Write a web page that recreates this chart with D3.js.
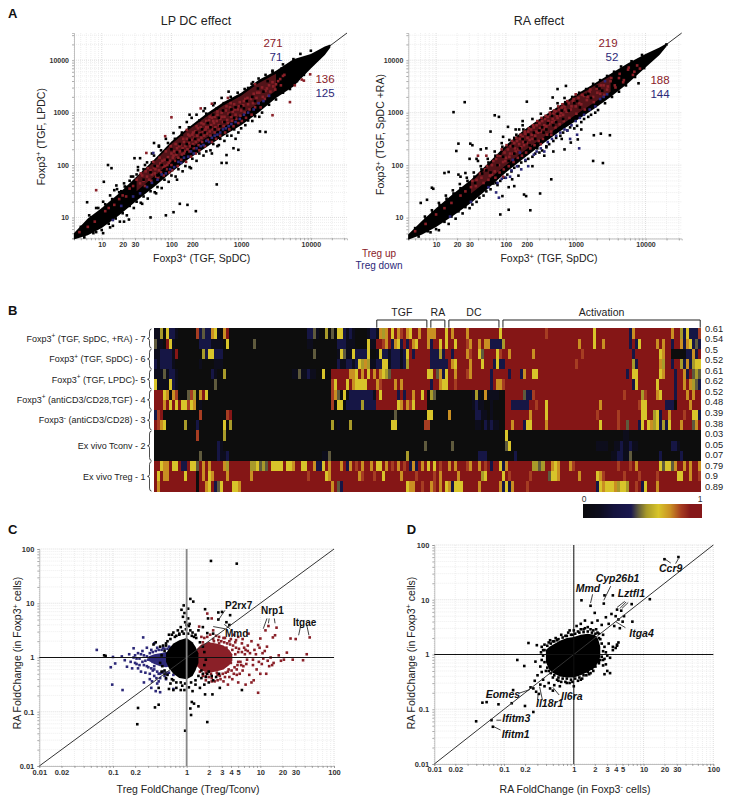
<!DOCTYPE html>
<html><head><meta charset="utf-8">
<script src="https://cdn.jsdelivr.net/npm/d3@7/dist/d3.min.js"></script>
<style>html,body{margin:0;background:#fff}svg{display:block}text{font-family:"Liberation Sans",Arial,sans-serif}</style>
</head><body><svg id="c" width="729" height="803"><defs><filter id="soft" x="-1%" y="-1%" width="102%" height="102%"><feGaussianBlur stdDeviation="0.7 0.3"/></filter></defs></svg>
<script>
// All scatter values are log10(value) x 100.
const RED="#8a2028",BLUE="#2c2878",INK="#222";
const aTicksX=[10,20,30,100,200,1000,10000], aTicksY=[10,100,1000,10000];
const fcTicksX=[0.01,0.02,0.1,0.2,1,2,3,4,5,10,20,30,100], fcTicksY=[0.01,0.1,1,10,100];

// A left: dense band envelope (logx, low, high)
const aLBandX=[60,80,100,125,150,175,200,225,250,275,300,325,350,375,400,420,428];
const aLBandLow=[58,66,80,104,132,158,186,212,234,256,276,300,328,350,384,410,424];
const aLBandHigh=[70,98,118,146,178,210,245,272,298,320,338,362,380,402,412,426,430];
const aLMixX=[150,175,200,225,250,275,300,325,350];
const aLMixLow=[150,178,206,230,252,272,296,318,342];
const aLMixHigh=[176,206,240,268,292,314,332,356,374];
const aLSpeck=[[160,172],[170,186],[180,180],[186,200],[194,210],[202,206],[208,224],[216,228],[222,240],[230,236],[236,262],[242,258],[248,262],[256,272],[262,268],[268,290],[276,282],[284,296],[292,310],[300,312],[308,322],[316,330],[324,346],[332,340],[176,198],[190,192],[212,240],[226,248],[244,268],[260,296],[274,304],[290,290],[304,308],[320,322],[338,360],[200,230],[234,250],[252,280],[270,274],[286,306]];
const aLBlack=[[109,200],[114,194],[103,168],[79,129],[112,81],[139,96],[132,92],[170,100],[192,104],[203,110],[212,126],[223,124],[235,112],[265,163],[345,380],[358,384],[327,264],[335,263],[317,358],[310,347],[289,232],[296,229],[279,219],[272,204],[279,204],[226,296],[175,242],[182,237],[203,261],[215,258],[155,213],[147,213],[145,178],[133,159],[121,161],[260,314],[246,303],[229,290],
[70,82],[85,100],[95,118],[105,125],[115,135],[125,148],[135,158],[140,170],[150,182],[160,192],[165,205],[175,218],[185,228],[195,242],[205,250],[215,262],[225,272],[240,285],[250,298],[265,308],[275,318],[285,330],[295,338],[305,345],[315,355],[325,365],[335,372],[345,378],[360,392],[375,402],[385,412],[400,418],
[75,62],[88,70],[100,76],[110,88],[120,98],[130,108],[140,122],[150,130],[160,140],[170,150],[180,158],[190,172],[200,180],[210,192],[220,198],[230,212],[240,222],[250,226],[260,240],[270,250],[280,256],[290,268],[300,270],[310,285],[320,293],[330,300],[340,315],[350,325],[360,338],[370,345],[380,360],[390,372],
[98,105],[118,152],[128,150],[152,196],[172,205],[158,126],[178,146],[208,172],[228,194],[258,222],[268,238],[292,250]];
const aLBlackEdge=[[82,104],[92,118],[102,130],[112,142],[122,154],[132,165],[142,178],[152,190],[162,200],[172,222],[182,235],[192,250],[212,272],[222,282],[236,296],[248,308],[262,318],[272,328],[282,340],[92,72],[102,70],[116,84],[126,92],[136,104],[146,118],[156,128],[166,136],[176,148],[186,156],[196,168],[206,178],[216,188],[226,196],[236,208],[246,218],[256,228],[266,236],[276,246],[286,256],[296,262],[306,276],[316,284],[326,292]];
const aLRed=[[92,152],[200,291],[242,308],[258,317],[281,328],[370,320],[345,295],[399,373],[390,361],[387,363],[377,352],[320,354],[164,223],[191,255],[222,267],
[68,72],[80,82],[90,92],[105,112],[110,118],[118,124],[125,135],[130,142],[135,140],[140,155],[145,160],
[150,172],[155,165],[158,180],[160,170],[163,188],[165,178],[168,172],[170,190],[172,182],[175,195],[176,184],[178,178],[180,198],[182,190],[184,203],[185,186],[188,196],[190,210],[191,198],[193,192],[195,215],[196,204],[198,208],[200,222],[200,200],[202,214],[204,226],[205,208],[207,220],[208,232],[210,214],[212,226],[213,238],[215,220],[216,232],[218,244],[219,226],[220,236],[222,250],[223,230],[225,242],[226,256],[227,236],[229,248],[230,258],[231,240],[233,252],[234,264],[235,244],[237,256],[238,270],[239,248],[241,260],[242,272],[243,252],[245,264],[246,278],[247,256],[249,268],[250,284],[251,260],[253,272],[254,286],[255,264],[257,276],[258,290],[259,268],[261,280],[262,292],[263,272],[265,284],[266,296],[268,276],[270,288],[272,300],[274,282],[276,292],[278,304],[280,286],[282,298],[284,310],[286,292],[288,302],[290,316],[292,296],[295,306],[298,320],[300,304],[303,314],[306,326],[310,316],[314,326],[318,336],[322,328],[326,338],[330,348],[335,342],[340,352],[345,358],[350,354],[356,364],[362,372]];
const aLRed2=[[156,184],[162,160],[166,194],[171,170],[174,206],[177,192],[181,176],[183,214],[187,208],[189,180],[192,226],[194,200],[197,186],[199,236],[201,190],[203,218],[206,240],[209,198],[211,236],[214,210],[217,250],[218,222],[221,206],[224,258],[226,226],[228,216],[231,262],[232,232],[235,222],[236,274],[239,238],[240,228],[243,280],[244,244],[247,266],[248,236],[250,272],[252,248],[255,292],[256,256],[258,244],[260,284],[262,262],[264,250],[266,302],[268,268],[270,256],[272,292],[275,274],[277,262],[279,312],[281,280],[283,268],[285,318],[287,284],[289,274],[291,306],[293,288],[296,280],[297,312],[299,294],[301,284],[304,322],[305,300],[307,290],[309,328],[312,306],[315,296],[317,318],[320,310],[323,338],[325,318],[328,310],[331,330],[334,326],[337,346],[339,332],[342,340],[346,350],[349,344],[353,360],[357,352],[360,370]];
const aLBlue=[[116,95],[174,223],[145,140],[155,146],[165,158],[172,166],[180,172],[186,182],[192,184],[198,192],[204,196],[210,206],[214,204],[218,214],[224,216],[228,226],[232,222],[236,232],[242,236],[246,238],[250,246],[254,244],[258,252],[262,256],[266,258],[270,262],[274,268],[278,270],[282,274],[286,278],[292,282],[298,288],[304,296],[310,300],[318,306],[325,318],[332,322],[340,332],[128,122]];

// A right
const aRBandX=[60,80,100,125,150,175,200,225,250,275,300,325,350,375,400,420,430];
const aRBandLow=[58,68,82,104,128,156,186,212,238,262,284,306,330,356,386,410,426];
const aRBandHigh=[68,94,118,146,172,204,238,266,290,312,334,354,374,394,412,424,432];
const aRMixX=[150,175,200,225,250,275,300,325,350];
const aRMixLow=[146,172,200,226,250,272,296,318,340];
const aRMixHigh=[168,198,232,262,286,308,330,350,370];
const aRSpeck=[[156,166],[166,184],[178,186],[188,200],[196,216],[204,208],[212,222],[220,232],[228,244],[234,238],[240,262],[248,266],[254,262],[260,280],[268,276],[274,298],[282,288],[290,304],[298,318],[306,310],[314,334],[322,328],[330,350],[338,342],[172,190],[192,222],[210,236],[224,250],[242,250],[258,268],[272,282],[286,316],[302,322],[318,336],[334,346],[200,196],[232,258],[252,272],[266,294],[280,304]];
const aRBlack=[[125,301],[141,320],[132,241],[129,227],[149,241],[152,238],[164,230],[184,295],[190,292],[178,264],[203,273],[230,321],[224,284],[219,268],[265,173],[249,146],[235,114],[192,106],[204,115],[229,141],[325,208],[339,204],[349,257],[336,260],[326,257],[390,356],[286,351],[274,345],[267,329],[94,157],[78,128],[87,134],[112,185],[118,187],[132,182],[142,185],[195,141],[209,173],[212,160],[226,144],[293,243],[303,249],[308,268],[284,230],[430,430],[96,155],[148,212],[160,208],[172,232],[196,254],[212,252],[245,232],[255,218],[268,226],
[70,80],[85,98],[95,110],[105,124],[115,136],[125,146],[135,156],[145,170],[155,178],[165,192],[175,205],[185,218],[195,235],[205,248],[215,258],[225,268],[235,272],[245,282],[255,290],[265,300],[275,310],[285,320],[295,330],[305,338],[315,345],[325,355],[335,362],[345,370],[355,378],[365,388],[380,398],[395,410],
[75,64],[88,74],[100,78],[112,92],[122,102],[132,112],[142,120],[152,125],[162,138],[172,150],[182,165],[192,170],[202,182],[212,195],[222,205],[232,212],[242,222],[252,228],[262,240],[272,252],[282,262],[292,272],[302,275],[312,288],[322,296],[332,305],[342,318],[352,330],[362,340],[372,352],[385,368],[398,385],
[120,122],[135,178],[158,212],[186,166],[204,158],[218,180],[238,198],[258,236],[280,250]];
const aRBlackEdge=[[84,102],[94,114],[104,128],[114,142],[124,152],[134,164],[144,176],[154,186],[164,198],[174,212],[184,226],[194,242],[214,268],[224,276],[238,288],[250,298],[264,308],[274,318],[284,328],[92,72],[104,76],[118,88],[128,98],[138,108],[148,118],[158,130],[168,142],[178,154],[188,162],[198,176],[208,188],[218,198],[228,208],[238,216],[248,224],[258,234],[268,246],[278,256],[288,266],[298,270],[308,282],[318,292],[328,300]];
const aRRed=[[70,74],[85,88],[100,106],[112,118],[122,128],[135,142],[142,150],[150,158],[158,172],[165,176],[170,192],[175,172],[180,200],[184,188],[186,212],[190,200],[192,218],[196,206],[198,224],[200,214],[203,230],[205,216],[207,236],[210,222],[212,242],[214,226],[216,246],[218,230],[220,250],[222,234],[224,254],[226,238],[228,260],[230,242],[232,264],[234,248],[236,268],[238,250],[240,272],[242,256],[244,276],[246,262],[248,280],[250,264],[252,284],[254,270],[256,288],[258,274],[260,292],[262,278],[264,296],[266,282],[268,298],[270,284],[272,302],[274,290],[276,306],[278,294],[280,310],[282,296],[284,312],[287,302],[290,318],[293,306],[296,322],[300,312],[304,328],[308,316],[312,332],[316,324],[320,340],[325,330],[330,346],[335,336],[340,352],[345,344],[350,360],[356,352],[362,366],[368,358],[375,382],[382,372],[388,390],[392,384],[160,218],[172,218],[180,182],[196,178],[250,240],[265,258],[300,335]];
const aRRed2=[[152,170],[157,160],[163,184],[168,166],[173,198],[177,180],[182,208],[185,176],[188,218],[191,186],[194,230],[197,192],[199,208],[201,238],[204,198],[206,222],[209,246],[211,206],[213,232],[215,252],[217,214],[219,240],[221,258],[223,218],[225,244],[227,264],[229,224],[231,252],[233,270],[235,232],[237,258],[239,276],[241,238],[243,264],[245,284],[247,246],[249,270],[251,290],[253,250],[255,276],[257,294],[259,258],[261,284],[263,300],[265,264],[267,288],[269,304],[271,272],[273,294],[275,312],[277,278],[279,300],[281,316],[283,284],[285,306],[288,322],[291,290],[294,312],[297,326],[301,298],[305,318],[309,334],[313,306],[317,330],[321,344],[326,320],[331,338],[336,352],[341,334],[346,350],[351,366],[357,348],[363,374],[369,362],[376,386],[384,378]];
const aRBlue=[[120,102],[150,130],[175,158],[188,166],[194,174],[200,176],[206,178],[208,190],[186,148],[190,138],[216,198],[222,192],[228,210],[232,198],[240,220],[244,226],[250,232],[255,226],[260,244],[266,250],[272,256],[278,262],[284,268],[288,266],[294,276],[300,284],[306,290],[312,296],[320,306],[328,312],[335,326],[340,330],[342,360],[302,258],[305,232],[292,250],[345,335],[210,210],[220,224]];

// C
const cBlackX=[-28,-24,-18,-10,0,8,12,16];
const cBlackLow=[-8,-20,-30,-38,-40,-34,-24,-10];
const cBlackHigh=[8,16,26,32,36,28,20,8];
const cRedX=[14,20,30,40,50,58,62];
const cRedLow=[-16,-24,-28,-26,-22,-14,-6];
const cRedHigh=[16,24,28,26,22,14,6];
const cBlueX=[-52,-44,-36,-28,-22];
const cBlueLow=[-6,-12,-16,-18,-16];
const cBlueHigh=[2,6,8,10,10];
const cBlack=[[33,178],[68,173],[5,108],[9,103],[-7,88],[-4,96],[2,90],[-67,-123],[-66,-93],[-43,-92],[-38,-87],[-2,-135],[6,-106],[28,-119],[7,-82],[10,-85],[16,-90],[5,-94],[25,-68],[35,-68],[45,-56],[75,-60],[43,83],[48,84],[59,78],[25,89],[29,72],[43,70],[54,65],[58,60],[-110,3],[-112,4],[-5,75],[2,72],[-2,65],[0,60],[3,58],[-1,52],[5,50],[-14,40],[-20,42],[-28,26],[-32,22],[-42,28],[-45,24],[-36,20],[-6,48],[-10,44],[8,46],[12,42],[16,50],[22,56],[28,45],[36,44],[-30,-30],[-28,-38],[-22,-48],[-18,-42],[-14,-56],[-6,-52],[-3,-60],[3,-55],[8,-62],[12,-50],[18,-56],[24,-50],[30,-46],[36,-42],[-8,-60],[-38,-56],[-18,-60],[-24,-58],[20,-38],[26,-36]];
const cBlackEdge=[[-30,12],[-34,4],[-36,-10],[-33,-16],[-28,22],[-26,30],[-22,34],[-16,38],[-10,42],[-4,44],[2,44],[7,40],[13,36],[18,28],[22,20],[24,10],[26,-4],[24,-14],[20,-24],[22,-30],[16,-34],[12,-42],[6,-46],[-2,-48],[-8,-46],[-14,-46],[-20,-40],[-26,-32],[-30,-24],[-34,-26],[30,-26],[34,-34],[28,-30],[40,-36],[44,-30],[-24,42],[-18,46],[-12,50],[-8,56],[10,38],[4,62],[-3,82]];
const cBlue=[[-122,14],[-59,37],[-72,17],[-88,2],[-100,1],[-103,-18],[-97,-11],[-101,-50],[-87,-60],[-81,-17],[-76,-8],[-84,-5],[-78,6],[-70,4],[-68,-12],[-66,-20],[-64,-2],[-60,12],[-58,-14],[-56,-28],[-54,2],[-52,-18],[-50,-30],[-48,14],[-46,-24],[-44,-34],[-42,-8],[-40,18],[-38,-30],[-36,-38],[-34,-28],[-32,18],[-30,-34],[-28,-40],[-26,-30],[-24,20],[-48,-56],[-40,-48],[-42,-62],[-38,-44],[-58,-46],[-50,-40],[-36,-64],[-18,-58],[-18,-32],[-62,-26],[-74,-20],[-54,18],[-44,26],[-52,-4],[-46,-8],[-44,-16]];
const cBlue2=[[-56,-6],[-54,-16],[-50,8],[-48,-20],[-46,10],[-44,-22],[-42,12],[-40,-26],[-38,14],[-36,-30],[-34,14],[-32,-26],[-30,16],[-28,-28],[-26,16],[-24,-28],[-22,18],[-58,4],[-60,-8],[-62,6],[-64,-14],[-66,8],[-68,-2],[-70,-10],[-72,0],[-47,-44],[-41,-38]];
const cRed=[[167,37],[141,35],[148,34],[163,6],[158,-5],[144,-4],[132,-4],[136,9],[122,55],[111,58],[107,50],[120,41],[117,37],[109,20],[97,23],[100,35],[84,44],[67,32],[97,-65],[91,-42],[28,81],[34,72],[17,57],[36,50],[114,0],[104,-2],[98,-8],[92,14],[86,8],[82,-4],[78,18],[74,-14],[70,10],[68,-22],[66,28],[64,-30],[62,14],[60,-10],[58,30],[56,-26],[54,18],[52,-36],[50,36],[48,-8],[46,-40],[44,26],[42,-32],[40,40],[38,-44],[36,34],[34,-38],[32,42],[30,-36],[28,38],[26,-34],[24,36],[22,-34],[20,38],[72,-30],[76,-24],[80,14],[85,-32],[90,-14],[95,-22],[102,-12],[106,12],[110,-6],[118,-10],[125,4],[128,-6],[108,-30],[100,-30],[88,-46],[80,-50],[70,-46],[62,-40],[56,-50],[116,-14],[88,30],[76,34],[70,38],[64,42]];
const cRed2=[[18,-26],[22,28],[26,-28],[30,26],[33,-30],[37,30],[41,-28],[43,32],[45,-34],[47,30],[49,-30],[51,28],[53,-28],[55,26],[57,-22],[59,24],[61,-24],[63,22],[65,-18],[67,18],[69,-14],[71,16],[73,-8],[75,10],[77,-16],[79,6],[81,-12],[83,12],[44,38],[52,36],[60,34],[68,-32],[58,-36],[50,-44],[42,-42],[34,-44],[26,-42],[75,26],[83,22],[90,-4],[94,6],[99,18],[103,8],[112,-16],[70,-8],[66,6]];

// D
const dCloudX=[-40,-35,-30,-20,-10,0,10,20,30,35,38];
const dCloudLow=[-14,-28,-34,-40,-42,-42,-38,-32,-24,-14,-4];
const dCloudHigh=[8,14,18,25,30,32,36,38,36,28,14];
const dBlack=[[150,178],[130,174],[109,101],[44,108],[56,108],[11,99],[24,89],[43,93],[83,92],[62,82],[68,80],[-140,-122],[-131,-88],[-125,-87],[-108,-91],[-118,-120],[-116,-132],[-89,-89],[-87,-65],[-70,-94],[-58,-105],[-81,-10],[-71,-21],[-65,21],[-53,17],[-55,-13],[-48,-22],[-46,-32],[-52,-38],[-44,-46],[-56,-48],[-48,-55],[-58,-62],[-62,-60],[-54,-68],[-50,-72],[-42,-58],[-36,-52],[-34,-62],[-28,-56],[-30,-66],[-22,-48],[-20,-58],[-10,-52],[-2,-50],[0,-58],[10,-46],[24,-34],[36,-12],[42,-10],[46,-18],[-46,14],[-44,8],[-36,22],[-30,24],[-24,26],[-12,34],[-2,36],[6,42],[14,46],[20,50],[28,44],[32,46],[36,38],[42,36],[48,-2],[52,-6],[60,12],[56,8],[62,16],[26,58],[34,62],[40,54],[46,68],[50,56],[54,74],[58,52],[64,64],[66,48],[70,60],[84,60],[60,70],[72,70],[30,76],[16,62],[10,56],[4,52],[-6,44],[50,20],[56,14],[62,18],[64,22]];
const dBlackEdge=[[-44,-2],[-42,-14],[-42,8],[-38,16],[-38,-24],[-33,20],[-33,-34],[-28,24],[-28,-38],[-22,28],[-22,-42],[-16,31],[-16,-44],[-10,34],[-10,-44],[-4,36],[-4,-46],[2,38],[2,-44],[8,40],[8,-42],[14,41],[14,-38],[20,42],[20,-32],[26,40],[26,-26],[31,38],[31,-22],[36,30],[36,-16],[40,20],[40,-4],[42,6],[38,-10],[-46,-10],[-47,4],[-40,-30],[-36,-30],[-30,-42],[-24,-46],[-18,-50],[-12,-50],[-6,-52],[6,-48],[12,-44],[18,-38],[22,-36],[28,-30],[-42,18],[-34,26],[-26,30],[-18,36],[-8,40],[0,44],[10,46],[16,48],[24,46],[34,40],[38,28],[44,14],[46,4],[44,-8],[42,-20],[48,-30],[52,-34],[44,-36]];

// Heat map: one digit per gene column, digit indexes heatValues. A short segment repeats its last digit.
const heatValues=[0,.13,.3,.36,.46,.53,.63,.73,.82,.95];
const heatWidths=[46,46,46,44];
const heatRows=[
["11506221000000"+"82422761079"+"0","00000"+"22410"+"05040"+"66212"+"10000"+"12217"+"57969"+"78976"+"99799"+"7","77999"+"69799"+"99799"+"99999999"+"69"+"9999999999999"+"8"+"9","9999999969"+"9999999999"+"27"+"999999999999"+"7995262228"],
["41109610000000"+"02222111106"+"00000000"+"40","00000"+"11000"+"00000"+"22211"+"10000"+"61199"+"87927"+"62929"+"769997","2996969969998799797722225"+"9","99979"+"999"+"6"+"99"+"7"+"99999999"+"29269"+"9999"+"797992997"+"276242"],
["1122221"+"9"+"00000000"+"52"+"66"+"2220","00000"+"00400"+"00000"+"16411"+"62222"+"60016"+"22122"+"21269"+"299999","22252"+"99299"+"99789"+"96499"+"99689"+"97999"+"99997"+"9","99998"+"9999999999999999"+"2"+"99999999"+"67"+"99"+"00000"+"22729"],
["2122221"+"00000000"+"1"+"0000"+"1110","000000000000000"+"21122"+"12657"+"51122"+"66122"+"21259"+"9","22222"+"29769"+"99979"+"99699"+"92622"+"9","99899"+"9999999999999999"+"52"+"9999999"+"75"+"99"+"2"+"99"+"52"+"7"+"2"+"5"+"66"],
["11141221"+"00000000000"+"2100"+"50","11411"+"21100"+"60099"+"99997"+"76979"+"69797"+"65499"+"9999999999"+"6","69472"+"69979"+"99879"+"99999"+"29999"+"92999"+"27996"+"6"+"9","9999999999999999999"+"2"+"9"+"66"+"9999999"+"67"+"999"+"2"+"99"+"7"+"2"+"9"+"454"],
["61111621"+"000000000000"+"40","0000000000"+"00086"+"99969"+"76666"+"99978"+"99997"+"97999"+"9","29976"+"69989"+"9999999999"+"29778"+"9","99999999999999999999"+"9"+"2"+"6"+"999999"+"6"+"99999"+"2"+"99"+"7"+"9"+"7"+"542"],
["99967078"+"000"+"485"+"0"+"796"+"0","0000000000"+"00087"+"40602"+"22222"+"22196"+"99999"+"29299"+"799690","54000"+"00000"+"00001"+"51071"+"11100"+"99999"+"94228"+"9","999999999999999999"+"8"+"9999"+"9"+"5"+"8"+"999"+"76"+"9999"+"2"+"999"+"7"+"9"+"7"+"99"],
["99979696966867"+"010","0000000000"+"00080"+"66022"+"22252"+"22299"+"99999"+"67978"+"699990","0000000000"+"00001"+"21100"+"10000"+"99"+"222222"+"99"+"8"+"99"+"6"+"9","9999999999"+"7"+"999999999999"+"8"+"66"+"999999"+"222"+"0"+"9999"+"7"+"999"],
["289"+"000000000000"+"8"+"00000000"+"89"+"0","0000000000"+"0000000000"+"0000000000"+"00004"+"0000000000"+"6","60000"+"07000"+"00000"+"22110"+"10000"+"99999"+"99979"+"999"+"6"+"9","999999999"+"8"+"999999"+"8"+"9999999"+"66"+"99"+"56"+"2"+"99"+"7"+"9999"+"8"+"99"+"662"],
["9876"+"000000"+"5"+"000"+"2"+"00000000"+"6050","0000000000"+"00050"+"10005"+"0000000000"+"00066"+"0000000008"+"8","0000000000"+"00000"+"11021"+"21100"+"99799"+"92669"+"999"+"7"+"9","9999999999"+"6"+"99999"+"8"+"99"+"4"+"999"+"2"+"6"+"9"+"6"+"7"+"5"+"6"+"2"+"5"+"2"+"6"+"999"+"7"+"999"+"4"+"7"+"9"],
["00000000000000"+"8"+"00000000"+"50","0","0000000000000000000000000"+"6"+"0","000000000000000000"+"110"],
["000000000000000000000"+"210","00000000000000000000000000000000000000000000"+"40","0000000"+"4"+"00000000000000000"+"46"+"0","000000000"+"1111"+"00"+"11211211"+"00000000000"+"221"+"0"],
["000000000000000"+"4"+"00000"+"2"+"1120","0000000000"+"114"+"0000000000000000000000000"+"50","0000000000000000"+"222"+"000000000"+"20","00000000000000"+"112211"+"4"+"000000000"+"2"+"000000"+"2"+"0"],
["9967796692"+"2966497979"+"99975"+"9999999"+"5564549"+"6666966","79966"+"99722"+"69799"+"97927"+"98979"+"97966"+"97989"+"79892"+"729796","96989"+"97979"+"99879"+"97989"+"29962"+"79999"+"9999"+"5545"+"997"+"67"+"9","78"+"99999999999999"+"8"+"999"+"8"+"9"+"7"+"9999999"+"64664"+"7"+"99"+"7"+"9"+"7"+"99"+"7"],
["9697799999"+"6"+"999"+"0"+"9796"+"7"+"9999"+"7"+"9999999"+"7"+"9","9999989999"+"96799"+"99999"+"99789"+"99899"+"69999"+"97999"+"989999","98979"+"99997"+"99999"+"99569"+"99996"+"98999"+"99989"+"9999"+"466"+"7"+"9","999"+"7"+"99999"+"678"+"999999"+"8"+"9999"+"8"+"99999"+"8"+"999999"+"66"+"99"+"7"+"998"],
["97"+"999999999999"+"0"+"99"+"76"+"9"+"2"+"4"+"6"+"999"+"66"+"79","9999999999"+"99979"+"42999"+"9999999999"+"99999999"+"67799899","78979"+"67266"+"69999"+"97999"+"99972"+"62799"+"9989"+"9","999999999"+"2"+"6766675665"+"99"+"8"+"9"+"26"+"999"+"7"+"9"]
];
const heatCorr=["0.61","0.54","0.5","0.52","0.61","0.62","0.52","0.48","0.39","0.38","0.03","0.05","0.07","0.79","0.9","0.89"];
const rowGroups=[["Foxp3^+^ (TGF, SpDC, +RA) - 7",0,2],["Foxp3^+^ (TGF, SpDC) - 6",2,4],["Foxp3^+^ (TGF, LPDC)- 5",4,6],["Foxp3^+^ (antiCD3/CD28,TGF) - 4",6,8],["Foxp3^-^ (antiCD3/CD28) - 3",8,10],["Ex vivo Tconv - 2",10,13],["Ex vivo Treg - 1",13,16]];
const geneSets=[["TGF",74,91],["RA",92,97],["DC",98,115],["Activation",116,182]];

const svg=d3.select("#c");
const col=d3.scaleLinear().domain([0,.13,.26,.4,.46,.53,.63,.73,.82,.9,1])
  .range(["#0b0b0e","#0d0d1c","#15143f","#1a1850","#5f5a3e","#a89a2a","#d8c42a","#c98f24","#a63c20","#851719","#851719"]);

function rich(sel,s){ // ^x^ makes a superscript
  const parts=s.split("^");
  parts.forEach((p,i)=>{ if(!p)return;
    const t=sel.append("tspan").text(p);
    if(i%2){t.attr("dy",-3.5).attr("font-size","0.72em");}
    else if(i>0){t.attr("dy",3.5);}
  });
  return sel;
}
function txt(x,y,s,o={}){
  const t=svg.append("text").attr("x",x).attr("y",y).attr("font-size",o.size||10.5)
    .attr("fill",o.fill||INK).attr("text-anchor",o.anchor||"middle")
    .attr("font-weight",o.weight||null).attr("font-style",o.italic?"italic":null);
  if(o.rotate)t.attr("transform",`rotate(-90 ${x} ${y})`);
  return rich(t,s);
}
function panel(b,dx,dy,xLab,yLab){
  const sx=d3.scaleLog().domain(dx).range([b.l,b.r]);
  const sy=d3.scaleLog().domain(dy).range([b.b,b.t]);
  const g=svg.append("g");
  const isMajor=v=>Math.abs(Math.log10(v)-Math.round(Math.log10(v)))<1e-6;
  const mk=list=>v=>list.some(l=>Math.abs(v/l-1)<1e-6)?d3.format("~g")(v):"";
  g.selectAll(".gx").data(sx.ticks()).join("line").attr("x1",sx).attr("x2",sx).attr("y1",b.t).attr("y2",b.b)
    .attr("stroke",d=>isMajor(d)?"#d6d6d6":"#eaeaea").attr("stroke-width",.8).attr("stroke-dasharray","1 1");
  g.selectAll(".gy").data(sy.ticks()).join("line").attr("y1",sy).attr("y2",sy).attr("x1",b.l).attr("x2",b.r)
    .attr("stroke",d=>isMajor(d)?"#d6d6d6":"#eaeaea").attr("stroke-width",.8).attr("stroke-dasharray","1 1");
  const ax=g.append("g").attr("transform",`translate(0,${b.b})`)
    .call(d3.axisBottom(sx).tickValues(sx.ticks()).tickSize(2).tickPadding(b.pad||2).tickFormat(mk(xLab)));
  const ay=g.append("g").attr("transform",`translate(${b.l},0)`)
    .call(d3.axisLeft(sy).tickValues(sy.ticks()).tickSize(2).tickPadding(3).tickFormat(mk(yLab)));
  [ax,ay].forEach(a=>{a.selectAll("text").attr("font-size",b.fs||7).attr("font-weight","bold").attr("fill","#333").attr("font-family","Liberation Sans");
    a.selectAll("line").attr("stroke","#777").attr("stroke-width",.6);
    a.select(".domain").attr("stroke","#999").attr("stroke-width",.6);});
  return {sx,sy,g};
}
const pow=v=>Math.pow(10,v/100);
function band(p,xs,lo,hi,fill,op=1){
  const area=d3.area().x((d,i)=>p.sx(pow(xs[i]))).y0((d,i)=>p.sy(pow(lo[i]))).y1((d,i)=>p.sy(pow(hi[i]))).curve(d3.curveLinear);
  p.g.append("path").datum(xs).attr("d",area).attr("fill",fill).attr("opacity",op);
}
function pts(p,data,fill,size=2.6){
  p.g.append("g").selectAll("rect").data(data).join("rect")
    .attr("x",d=>p.sx(pow(d[0]))-size/2).attr("y",d=>p.sy(pow(d[1]))-size/2)
    .attr("width",size).attr("height",size).attr("fill",fill);
}
function line(p,a,b,color,w){
  p.g.append("line").attr("x1",p.sx(a[0])).attr("y1",p.sy(a[1])).attr("x2",p.sx(b[0])).attr("y2",p.sy(b[1])).attr("stroke",color).attr("stroke-width",w);
}
function leaders(p,list){
  p.g.append("g").selectAll("line").data(list).join("line")
    .attr("x1",d=>p.sx(pow(d[0]))).attr("y1",d=>p.sy(pow(d[1]))).attr("x2",d=>p.sx(pow(d[2]))).attr("y2",d=>p.sy(pow(d[3])))
    .attr("stroke","#111").attr("stroke-width",.8);
}

// Panel A
const aDom=[4,33000];
const pAL=panel({l:74,r:347,t:33,b:238.3},aDom,aDom,aTicksX,aTicksY);
line(pAL,[aDom[0],aDom[0]],[aDom[1],aDom[1]],"#333",1);
band(pAL,aLBandX,aLBandLow,aLBandHigh,"#000");
band(pAL,aLMixX,aLMixLow,aLMixHigh,RED,.6);
pts(pAL,aLBlack,"#000"); pts(pAL,aLBlackEdge,"#000"); pts(pAL,aLRed,RED); pts(pAL,aLRed2,RED); pts(pAL,aLSpeck,"#000"); pts(pAL,aLBlue,BLUE);
const pAR=panel({l:408.3,r:681.7,t:33,b:238.5},aDom,aDom,aTicksX,aTicksY);
line(pAR,[aDom[0],aDom[0]],[aDom[1],aDom[1]],"#333",1);
band(pAR,aRBandX,aRBandLow,aRBandHigh,"#000");
band(pAR,aRMixX,aRMixLow,aRMixHigh,RED,.6);
pts(pAR,aRBlack,"#000"); pts(pAR,aRBlackEdge,"#000"); pts(pAR,aRRed,RED); pts(pAR,aRRed2,RED); pts(pAR,aRSpeck,"#000"); pts(pAR,aRBlue,BLUE);

txt(8,18,"A",{size:13,weight:"bold",anchor:"start",fill:"#111"});
txt(196,25,"LP DC effect",{size:12.5});
txt(539,25,"RA effect",{size:12.5});
txt(201.7,262,"Foxp3^+^ (TGF, SpDC)");
txt(549,262,"Foxp3^+^ (TGF, SpDC)");
txt(45,136.7,"Foxp3^+^ (TGF, LPDC)",{rotate:true});
txt(384,134.5,"Foxp3^+^ (TGF, SpDC +RA)",{rotate:true});
[["271",273,47,RED],["71",276,61,BLUE],["136",325,83,RED],["125",325,97,BLUE],["219",608,47,RED],["52",612,61,BLUE],["188",660,84,RED],["144",660,98,BLUE]]
  .forEach(d=>txt(d[1],d[2],d[0],{size:11.5,fill:d[3]}));
txt(379,257,"Treg up",{size:10,fill:RED});
txt(379,269,"Treg down",{size:10,fill:BLUE});

// Panel B
txt(8,315,"B",{size:13,weight:"bold",anchor:"start",fill:"#111"});
const hx=d3.scaleLinear().domain([0,182]).range([154,700.7]);
const hy=d3.scaleLinear().domain([0,16]).range([328.3,491.7]);
const gh=svg.append("g").attr("shape-rendering","crispEdges").attr("filter","url(#soft)");
heatRows.forEach((segs,r)=>{
  const digits=segs.map((s,i)=>s.padEnd(heatWidths[i],s.slice(-1)).slice(0,heatWidths[i])).join("").split("").map(Number);
  gh.append("g").selectAll("rect").data(digits).join("rect")
    .attr("x",(d,i)=>hx(i)).attr("width",(d,i)=>hx(i+1)-hx(i)+.4)
    .attr("y",hy(r)).attr("height",hy(r+1)-hy(r)+.4).attr("fill",d=>col(heatValues[d]));
});
heatCorr.forEach((c,i)=>txt(705,328.3+10.55*i+3.3,c,{size:9.3,anchor:"start",fill:"#222"}));
rowGroups.forEach(g=>{
  const y0=hy(g[1])+.6,y1=hy(g[2])-.6,m=(y0+y1)/2,x=151.5;
  txt(145.5,m+3.2,g[0],{size:9,anchor:"end",fill:"#222"});
  const p=d3.path();
  p.moveTo(x,y0);p.quadraticCurveTo(x-2,y0,x-2,y0+3);p.lineTo(x-2,m-2);p.quadraticCurveTo(x-2,m,x-4,m);
  p.quadraticCurveTo(x-2,m,x-2,m+2);p.lineTo(x-2,y1-3);p.quadraticCurveTo(x-2,y1,x,y1);
  svg.append("path").attr("d",p.toString()).attr("fill","none").attr("stroke","#222").attr("stroke-width",.8);
});
geneSets.forEach(s=>{
  const a=hx(s[1])+.5,b=hx(s[2])-.5;
  svg.append("path").attr("d",`M${a},327.7V320H${b}V327.7`).attr("fill","none").attr("stroke","#222").attr("stroke-width",1);
  txt((a+b)/2,315.5,s[0],{size:10.5});
});
const cbar=d3.scaleLinear().domain([0,1]).range([582.7,701.7]);
svg.append("g").attr("shape-rendering","crispEdges").selectAll("rect").data(d3.range(0,1,1/119)).join("rect")
  .attr("x",d=>cbar(d)).attr("width",1.4).attr("y",504).attr("height",13.7).attr("fill",d=>col(d));
txt(584,502,"0",{size:8.5,fill:"#333"});txt(700,502,"1",{size:8.5,fill:"#333"});

// Panel C
txt(8,534,"C",{size:13,weight:"bold",anchor:"start",fill:"#111"});
const fcDom=[.01,100];
const pC=panel({l:39.3,r:334,t:549,b:766,fs:7.5},fcDom,fcDom,fcTicksX,fcTicksY);
band(pC,cBlueX,cBlueLow,cBlueHigh,BLUE);
band(pC,cRedX,cRedLow,cRedHigh,RED);
pts(pC,cBlue,BLUE);pts(pC,cBlue2,BLUE);pts(pC,cRed,RED);pts(pC,cRed2,RED);
band(pC,cBlackX,cBlackLow,cBlackHigh,"#000");
pts(pC,cBlack,"#000");pts(pC,cBlackEdge,"#000");
line(pC,[.01,.01],[100,100],"#333",1);
line(pC,[.01,1],[100,1],"#111",1);
line(pC,[1,.01],[1,100],"#888",1.8);
leaders(pC,[[52,87,43,69],[52,53,36,57],[59,53,51,61],[109,72,104,53],[112,72,111,63],[119,72,120,63],[155,60,152,41],[163,60,166,41]]);
[["P2rx7",225,609],["Nrp1",261,614],["Itgae",293,625.7],["Mmd",225,636.7]].forEach(d=>txt(d[1],d[2],d[0],{size:10,weight:"bold",anchor:"start",fill:"#111"}));
txt(188,792.7,"Treg FoldChange (Treg/Tconv)");
txt(21,653,"RA FoldChange (in Foxp3^+^ cells)",{rotate:true});

// Panel D
txt(406.7,534,"D",{size:13,weight:"bold",anchor:"start",fill:"#111"});
const pD=panel({l:434.3,r:713.3,t:545,b:764,fs:7.5,pad:1},fcDom,fcDom,fcTicksX,fcTicksY);
band(pD,dCloudX,dCloudLow,dCloudHigh,"#000");
pts(pD,dBlack,"#000");pts(pD,dBlackEdge,"#000");
line(pD,[.01,.01],[100,100],"#333",1);
line(pD,[.01,1],[100,1],"#111",1);
line(pD,[1,.01],[1,100],"#111",1);
leaders(pD,[[139,167,130,175],[146,166,150,175],[53,125,43,99],[27,110,24,94],[73,97,62,86],[75,96,66,84],[78,95,69,84],[74,49,60,60],[-79,-71,-63,-64],[-45,-83,-49,-59],[-52,-83,-51,-71],[-21,-74,-30,-60],[-104,-120,-111,-120],[-105,-138,-116,-131]]);
[["Ccr9",659,571.7],["Cyp26b1",595.7,582],["Mmd",575.7,591.7],["Lztfl1",617.7,597],["Itga4",629.3,637],["Eomes",485.7,698],["Il6ra",561,700],["Il18r1",536,707],["Ifitm3",502.3,722],["Ifitm1",501.7,738.3]]
  .forEach(d=>txt(d[1],d[2],d[0],{size:10.5,weight:"bold",italic:true,anchor:"start",fill:"#111"}));
txt(575,792.7,"RA FoldChange (in Foxp3^-^ cells)");
txt(414.5,653,"RA FoldChange (in Foxp3^+^ cells)",{rotate:true});
</script></body></html>
